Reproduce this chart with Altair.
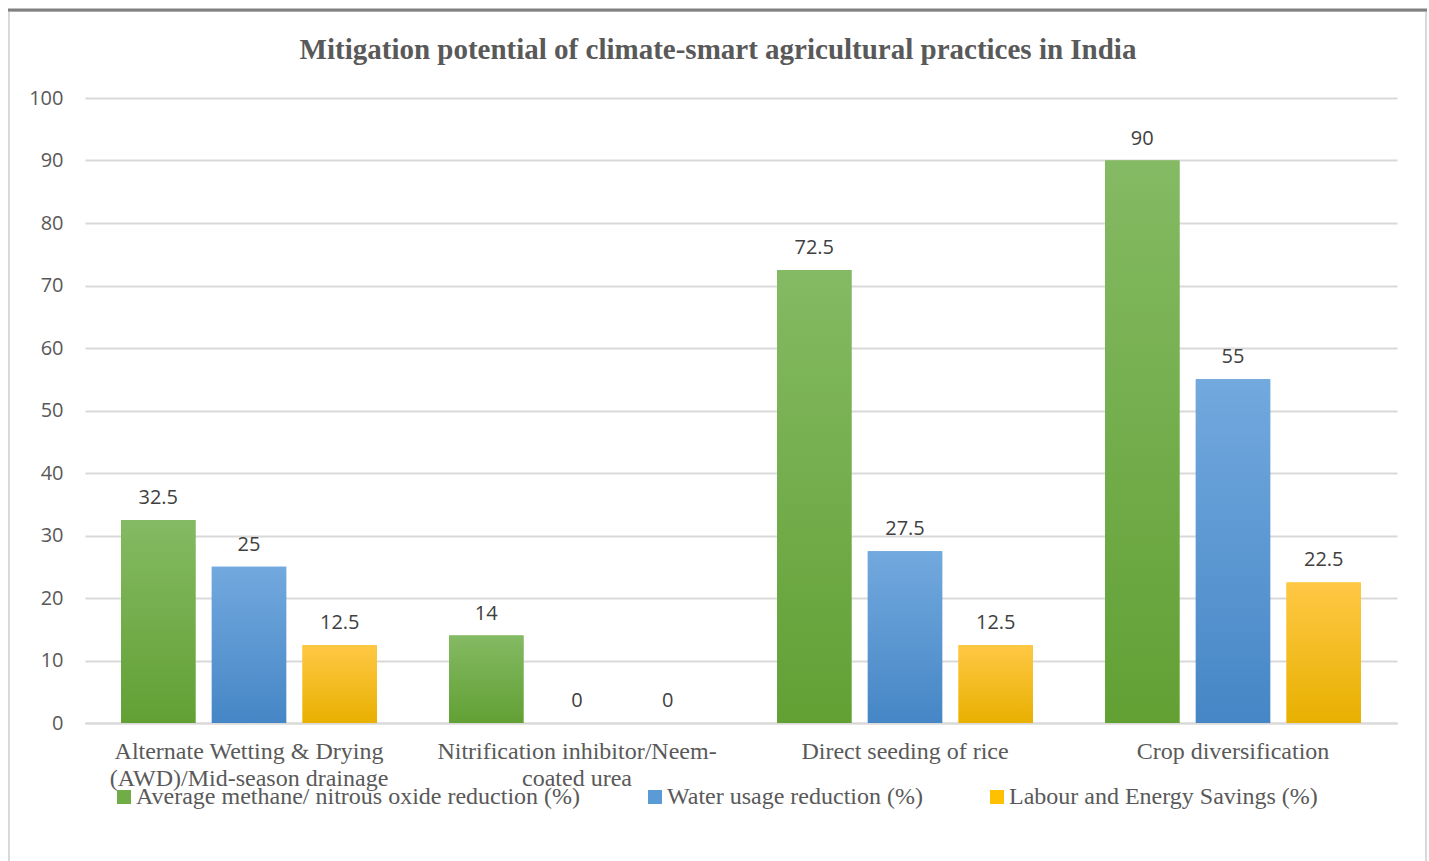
import altair as alt
import pandas as pd

categories = [
    "Alternate Wetting & Drying (AWD)/Mid-season drainage",
    "Nitrification inhibitor/Neem-coated urea",
    "Direct seeding of rice",
    "Crop diversification",
]
series = [
    "Average methane/ nitrous oxide reduction (%)",
    "Water usage reduction (%)",
    "Labour and Energy Savings (%)",
]
methane = [32.5, 14, 72.5, 90]
water = [25, 0, 27.5, 55]
labour = [12.5, 0, 12.5, 22.5]
values = [methane, water, labour]

solid = ["#70ad47", "#5b9bd5", "#ffc000"]
grad_top = ["#84ba63", "#72a9de", "#ffc845"]
grad_bot = ["#62a034", "#4686c6", "#e8b000"]

rows = []
for s, vals in zip(series, values):
    for c, v in zip(categories, vals):
        rows.append({"category": c, "series": s, "value": v})
df = pd.DataFrame(rows)

W, H = 1312, 625

label_expr = (
    "datum.value == '" + categories[0] + "' ? ['Alternate Wetting & Drying', '(AWD)/Mid-season drainage'] : "
    "datum.value == '" + categories[1] + "' ? ['Nitrification inhibitor/Neem-', 'coated urea'] : datum.label"
)

x_enc = alt.X(
    "category:N",
    sort=categories,
    scale=alt.Scale(paddingInner=0.22, paddingOuter=0.11),
    axis=alt.Axis(
        title=None,
        labelAngle=0,
        labelFont="Liberation Serif",
        labelFontSize=24,
        labelColor="#595959",
        labelExpr=label_expr,
        labelLineHeight=27,
        labelPadding=16,
        ticks=False,
        domainColor="#d9d9d9",
        domainWidth=2,
        labelLimit=400,
    ),
)
xo_enc = alt.XOffset(
    "series:N", sort=series, scale=alt.Scale(domain=series, paddingInner=0.18, paddingOuter=0)
)
y_enc = alt.Y(
    "value:Q",
    scale=alt.Scale(domain=[0, 100]),
    axis=alt.Axis(
        title=None,
        values=list(range(0, 101, 10)),
        labelFont="Open Sans",
        labelFontSize=20,
        labelColor="#595959",
        labelPadding=22,
        ticks=False,
        domain=False,
        gridColor="#d9d9d9",
        gridWidth=2,
    ),
)

base = alt.Chart(df)

legend_layer = base.mark_bar().encode(
    x=x_enc,
    xOffset=xo_enc,
    y=y_enc,
    color=alt.Color(
        "series:N",
        sort=series,
        scale=alt.Scale(domain=series, range=solid),
        legend=alt.Legend(
            title=None,
            orient="none",
            legendX=27,
            legendY=687,
            direction="horizontal",
            symbolType="square",
            symbolSize=196,
            symbolStrokeWidth=0,
            labelFont="Liberation Serif",
            labelFontSize=24,
            labelColor="#595959",
            labelOffset=0,
            columnPadding=62,
            labelLimit=600,
        ),
    ),
)

layers = [legend_layer]
for i, s in enumerate(series):
    g = alt.Gradient(
        gradient="linear",
        x1=0, y1=0, x2=0, y2=1,
        stops=[
            alt.GradientStop(color=grad_top[i], offset=0),
            alt.GradientStop(color=grad_bot[i], offset=1),
        ],
    )
    layers.append(
        base.transform_filter(alt.datum.series == s)
        .mark_bar(color=g)
        .encode(x=x_enc, xOffset=xo_enc, y=y_enc)
    )

text_layer = base.mark_text(
    baseline="bottom", dy=-12, font="Open Sans", fontSize=20, color="#404040"
).encode(x=x_enc, xOffset=xo_enc, y=y_enc, text=alt.Text("value:Q"))
layers.append(text_layer)

frame = alt.Chart(pd.DataFrame({"k": [0]})).mark_rect(
    fill=None, stroke="#d9d9d9", strokeWidth=2
).encode(x=alt.value(-76), x2=alt.value(1341), y=alt.value(-87), y2=alt.value(780))
top_rule = alt.Chart(pd.DataFrame({"k": [0]})).mark_rule(
    color="#808080", strokeWidth=3
).encode(x=alt.value(-77), x2=alt.value(1342), y=alt.value(-88))

chart = (
    alt.layer(frame, top_rule, *layers)
    .properties(
        width=W,
        height=H,
        autosize=alt.AutoSizeParams(type="none"),
        padding={"left": 85, "top": 98, "right": 32, "bottom": 138},
        title=alt.TitleParams(
            "Mitigation potential of climate-smart agricultural practices in India",
            font="Liberation Serif",
            fontSize=29,
            fontWeight="bold",
            color="#595959",
            anchor="middle",
            baseline="bottom",
            dx=-23,
            offset=-85,
        ),
    )
    .configure_view(stroke=None)
    .configure_axisY(grid=True)
    .configure_axisX(grid=False)
)

chart.save("out.html", embed_options={"renderer": "svg", "actions": False})
